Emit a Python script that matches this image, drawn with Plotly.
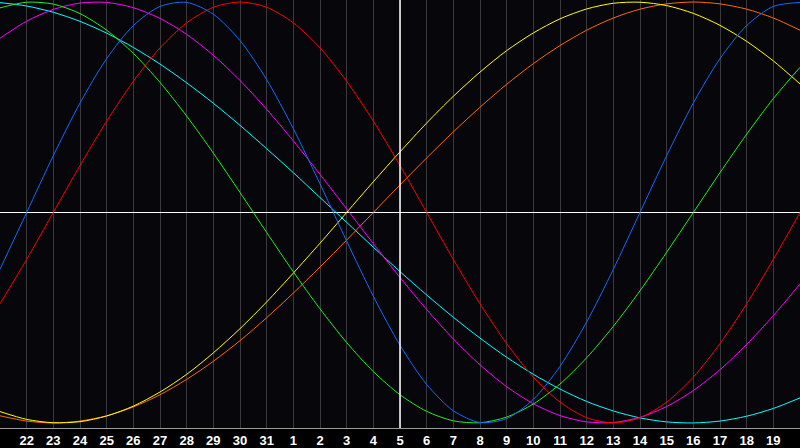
import plotly.graph_objects as go

# dias exibidos (índice 0 = dia 21, índice 30 = dia 20 do mês seguinte)
day_labels = ["21", "22", "23", "24", "25", "26", "27", "28", "29", "30", "31",
              "1", "2", "3", "4", "5", "6", "7", "8", "9", "10",
              "11", "12", "13", "14", "15", "16", "17", "18", "19", "20"]
today_label = "5"

# valores, de -1 a 1, um por dia
physical = [-0.270, 0.000, 0.270, 0.520, 0.731, 0.888, 0.979, 0.998, 0.942, 0.817, 0.631,
            0.398, 0.136, -0.136, -0.398, -0.631, -0.817, -0.942, -0.998, -0.979, -0.888,
            -0.731, -0.520, -0.270, 0.000, 0.270, 0.520, 0.731, 0.888, 0.979, 0.998]
emotional = [-0.434, -0.223, 0.000, 0.223, 0.434, 0.623, 0.782, 0.901, 0.975, 1.000, 0.975,
             0.901, 0.782, 0.623, 0.434, 0.223, 0.000, -0.223, -0.434, -0.623, -0.782,
             -0.901, -0.975, -1.000, -0.975, -0.901, -0.782, -0.623, -0.434, -0.223, 0.000]
intellectual = [0.972, 0.999, 0.990, 0.945, 0.866, 0.756, 0.618, 0.458, 0.282, 0.095, -0.095,
                -0.282, -0.458, -0.618, -0.756, -0.866, -0.945, -0.990, -0.999, -0.972, -0.910,
                -0.815, -0.690, -0.541, -0.372, -0.189, 0.000, 0.189, 0.372, 0.541, 0.690]
intuitive = [0.828, 0.909, 0.965, 0.995, 0.998, 0.973, 0.922, 0.846, 0.747, 0.627, 0.490,
             0.340, 0.181, 0.017, -0.148, -0.309, -0.461, -0.601, -0.724, -0.828, -0.909,
             -0.965, -0.995, -0.998, -0.973, -0.922, -0.846, -0.747, -0.627, -0.490, -0.340]
aesthetic = [-0.946, -0.983, -0.999, -0.994, -0.967, -0.920, -0.853, -0.769, -0.667, -0.552, -0.425,
             -0.288, -0.146, 0.000, 0.146, 0.288, 0.425, 0.552, 0.667, 0.769, 0.853,
             0.920, 0.967, 0.994, 0.999, 0.983, 0.946, 0.889, 0.813, 0.720, 0.611]
awareness = [-0.966, -0.991, -1.000, -0.991, -0.966, -0.924, -0.866, -0.793, -0.707, -0.609, -0.500,
             -0.383, -0.259, -0.131, 0.000, 0.131, 0.259, 0.383, 0.500, 0.609, 0.707,
             0.793, 0.866, 0.924, 0.966, 0.991, 1.000, 0.991, 0.966, 0.924, 0.866]
spiritual = [0.997, 0.981, 0.951, 0.908, 0.852, 0.784, 0.705, 0.616, 0.519, 0.414, 0.303,
             0.189, 0.071, -0.047, -0.165, -0.281, -0.392, -0.498, -0.597, -0.688, -0.769,
             -0.839, -0.898, -0.943, -0.976, -0.995, -1.000, -0.991, -0.968, -0.931, -0.881]

series = [
    ("Espiritual", spiritual, "#00ffff"),
    ("Percepção", awareness, "#ff6a00"),
    ("Estético", aesthetic, "#ffff00"),
    ("Intuitivo", intuitive, "#ff00ff"),
    ("Intelectual", intellectual, "#22ee22"),
    ("Emocional", emotional, "#ff0000"),
    ("Físico", physical, "#1469ff"),
]

x = list(range(len(day_labels)))

fig = go.Figure()
for nome, valores, cor in series:
    fig.add_trace(go.Scatter(
        x=x, y=valores, name=nome, mode="lines",
        line=dict(color=cor, width=1, shape="spline", smoothing=0.8),
        hoverinfo="skip",
    ))

# linha vertical do dia atual
today_idx = day_labels.index(today_label, 11)
fig.add_vline(x=today_idx, line_color="white", line_width=1.5, layer="above")

fig.update_layout(
    width=800, height=448,
    margin=dict(l=0, r=0, t=0, b=20),
    paper_bgcolor="#000000",
    plot_bgcolor="#07060b",
    showlegend=False,
    font=dict(family="Liberation Sans", color="white"),
)
fig.update_xaxes(
    range=[0, len(day_labels) - 1],
    tickvals=x[1:-1], ticktext=day_labels[1:-1],
    tickfont=dict(size=13, color="white", weight="bold"),
    showgrid=True, gridcolor="#3a3a3e", gridwidth=1,
    showline=True, linecolor="#9a9a9a", linewidth=1, mirror=False,
    zeroline=False, ticks="", fixedrange=True,
)
fig.update_yaxes(
    range=[-1.024, 1.0095],
    showticklabels=False, showgrid=False,
    zeroline=True, zerolinecolor="white", zerolinewidth=1.5,
    showline=True, linecolor="#9a9a9a", linewidth=1, mirror=True,
    ticks="", fixedrange=True,
)

# a página tem margem padrão de 8px no body; zera para o gráfico ocupar a janela
fig.write_html("out.html", config={"staticPlot": True},
               post_script="document.body.style.margin='0';")
